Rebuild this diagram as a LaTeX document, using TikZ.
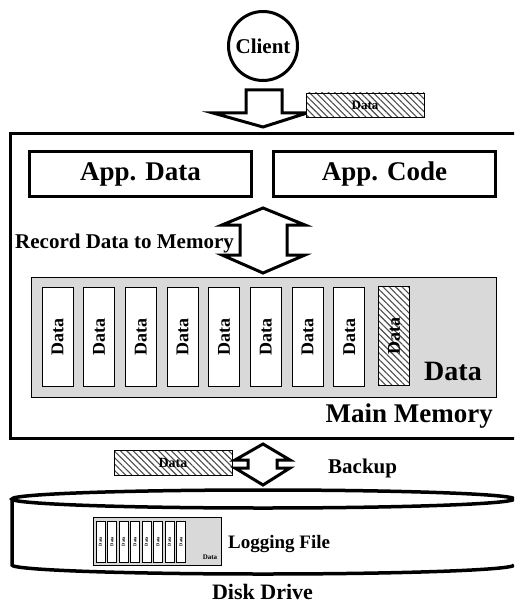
\documentclass[tikz,border=0pt]{standalone}
\usepackage{fontspec}
\setmainfont{Liberation Serif}
\usetikzlibrary{patterns.meta}

\begin{document}
\begin{tikzpicture}[x=1pt,y=-1pt,
		bigbox/.style={draw,line width=3pt,inner sep=0pt},
		cell/.style={draw,line width=1pt,fill=white,rotate=90,inner sep=0pt,minimum width=99pt,minimum height=31pt,font=\fontsize{18}{18}\selectfont\bfseries},
		smallcell/.style={draw,line width=0.6pt,fill=white,rotate=90,inner sep=0pt,minimum width=41pt,minimum height=9pt,font=\fontsize{4.5}{4.5}\selectfont\bfseries},
		hatch/.style={draw,line width=0.8pt,inner sep=0pt,preaction={fill=white},pattern={Lines[angle=-45,distance=4.5pt,line width=1.1pt]},pattern color=black!70},
		blockarrow/.style={draw,line width=3pt,fill=white,line join=miter},
		graybox/.style={draw,line width=0.8pt,fill=black!15,inner sep=0pt}]
		\clip (0,0) rectangle (514,604);
		\node[bigbox,circle,minimum size=69pt,font=\fontsize{21}{21}\selectfont\bfseries] (client) at (263,46) {Client};
		\draw[blockarrow] (246,90) -- (282,90) -- (282,113) -- (307,113) -- (263,127) -- (213,113) -- (246,113) -- cycle;
		\node[hatch,minimum width=118pt,minimum height=24pt,font=\fontsize{13}{13}\selectfont\bfseries] (indata) at (365,105) {Data};
		\node[bigbox,minimum width=530pt,minimum height=304pt] (mainmem) at (275,286) {};
		\node[bigbox,minimum width=222pt,minimum height=45pt,font=\fontsize{27}{27}\selectfont\bfseries] (appdata) at (140.5,174) {App. Data};
		\node[bigbox,minimum width=222pt,minimum height=45pt,font=\fontsize{27}{27}\selectfont\bfseries] (appcode) at (384.5,174) {App. Code};
		\draw[blockarrow] (263,208) -- (305,225) -- (287,225) -- (287,255) -- (305,255) -- (263,273) -- (222,255) -- (240,255) -- (240,225) -- (222,225) -- cycle;
		\node[anchor=base west,inner sep=0pt,font=\fontsize{21}{21}\selectfont\bfseries] (record) at (15,248) {Record Data to Memory};
		\node[graybox,minimum width=465pt,minimum height=120pt] (dataarea) at (263.5,337) {};
		\foreach \i in {0,...,7}
			\node[cell] (cell\i) at ({57.5+41.67*\i},336.5) {Data};
		\node[cell,hatch,line width=1pt] (cell8) at (394,336) {Data};
		\node[anchor=base,inner sep=0pt,font=\fontsize{28}{28}\selectfont\bfseries] (datalabel) at (453,380) {Data};
		\node[anchor=base east,inner sep=0pt,font=\fontsize{27}{27}\selectfont\bfseries] (memlabel) at (493,422) {Main Memory};
		\node[hatch,minimum width=118pt,minimum height=25pt,font=\fontsize{14}{14}\selectfont\bfseries] (outdata) at (173,462.5) {Data};
		\draw[blockarrow] (263,444) -- (290,460) -- (277,460) -- (277,468) -- (290,468) -- (263,485) -- (235,468) -- (248,468) -- (248,460) -- (235,460) -- cycle;
		\node[anchor=base west,inner sep=0pt,font=\fontsize{21}{21}\selectfont\bfseries] (backup) at (328,473) {Backup};
		\draw[line width=3.5pt] (12,499) -- (12,565) arc[start angle=180,end angle=360,x radius=251,y radius=-9];
		\draw[line width=3.5pt] (263,499) ellipse[x radius=251,y radius=9];
		\node[graybox,minimum width=128pt,minimum height=48pt] (logfile) at (157,541) {};
		\foreach \i in {0,...,7}
			\node[smallcell] (small\i) at ({100.5+11.5*\i},541.5) {Data};
		\node[inner sep=0pt,font=\fontsize{7}{7}\selectfont\bfseries] (logdata) at (210,557) {Data};
		\node[anchor=base west,inner sep=0pt,font=\fontsize{19}{19}\selectfont\bfseries] (loglabel) at (228,548) {Logging File};
		\node[anchor=base,inner sep=0pt,font=\fontsize{22}{22}\selectfont\bfseries] (disklabel) at (262.5,599) {Disk Drive};
	\end{tikzpicture}
\end{document}
